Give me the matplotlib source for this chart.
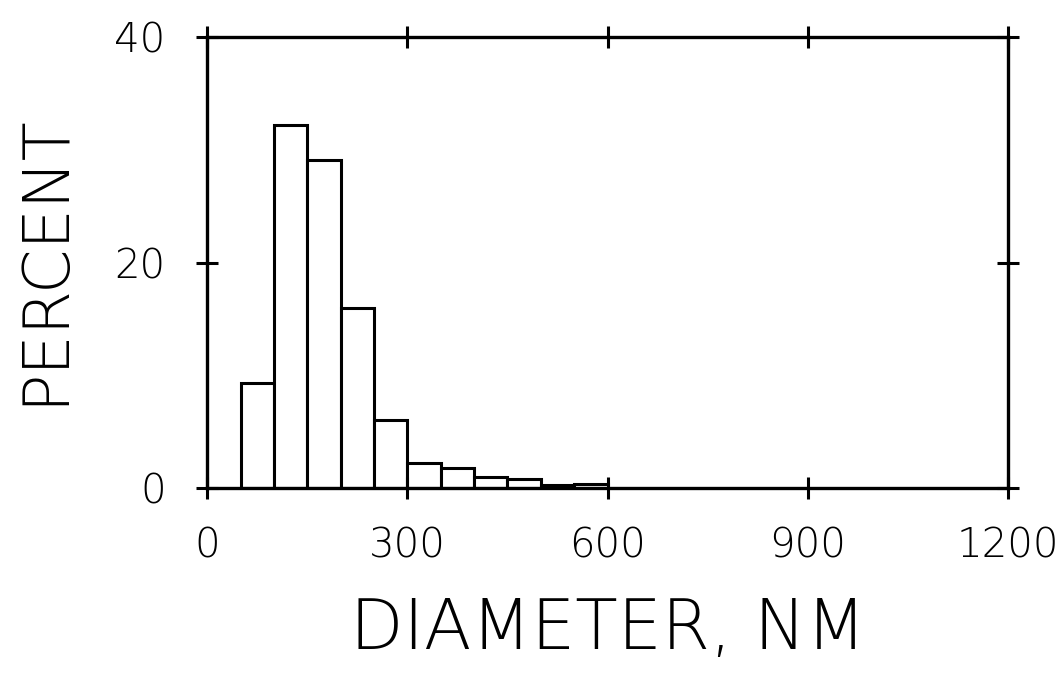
#!/usr/bin/env python3
import matplotlib
matplotlib.use('Agg')
import matplotlib.pyplot as plt

# histogram of particle diameters, 50 nm bins
bin_left = [50, 100, 150, 200, 250, 300, 350, 400, 450, 500, 550]
percent = [9.3, 32.2, 29.1, 16.0, 6.0, 2.2, 1.8, 1.0, 0.8, 0.3, 0.4]
bin_width = 50

x_ticks = [0, 300, 600, 900, 1200]
y_ticks = [0, 20, 40]

plt.rcParams['font.family'] = ['DejaVu Sans']

fig = plt.figure(figsize=(10.63, 6.75), dpi=100)
ax = fig.add_axes([0.195, 0.277, 0.753, 0.668])

ax.bar(bin_left, percent, width=bin_width, align='edge',
       facecolor='white', edgecolor='black', linewidth=2.2)

ax.set_xlim(0, 1200)
ax.set_ylim(0, 40)
for s in ax.spines.values():
    s.set_linewidth(2.4)

ax.set_xticks(x_ticks)
ax.set_yticks(y_ticks)
ax.set_xticklabels([str(v) for v in x_ticks], fontweight='light')
ax.set_yticklabels([str(v) for v in y_ticks], fontweight='light')
ax.tick_params(axis='both', direction='inout', length=16, width=2.2,
               labelsize=29, top=True, right=True)
ax.tick_params(axis='x', pad=20)
ax.tick_params(axis='y', pad=22)

# axis titles placed by hand so the long rotated one fits the left margin
fig.text(45 / 1063, 0.616, 'PERCENT', rotation=90, ha='center', va='center',
         fontsize=46, fontweight='light')
ax.set_xlabel('DIAMETER, NM', fontsize=50, labelpad=22, fontweight='light')

fig.savefig('out.png', dpi=100)
